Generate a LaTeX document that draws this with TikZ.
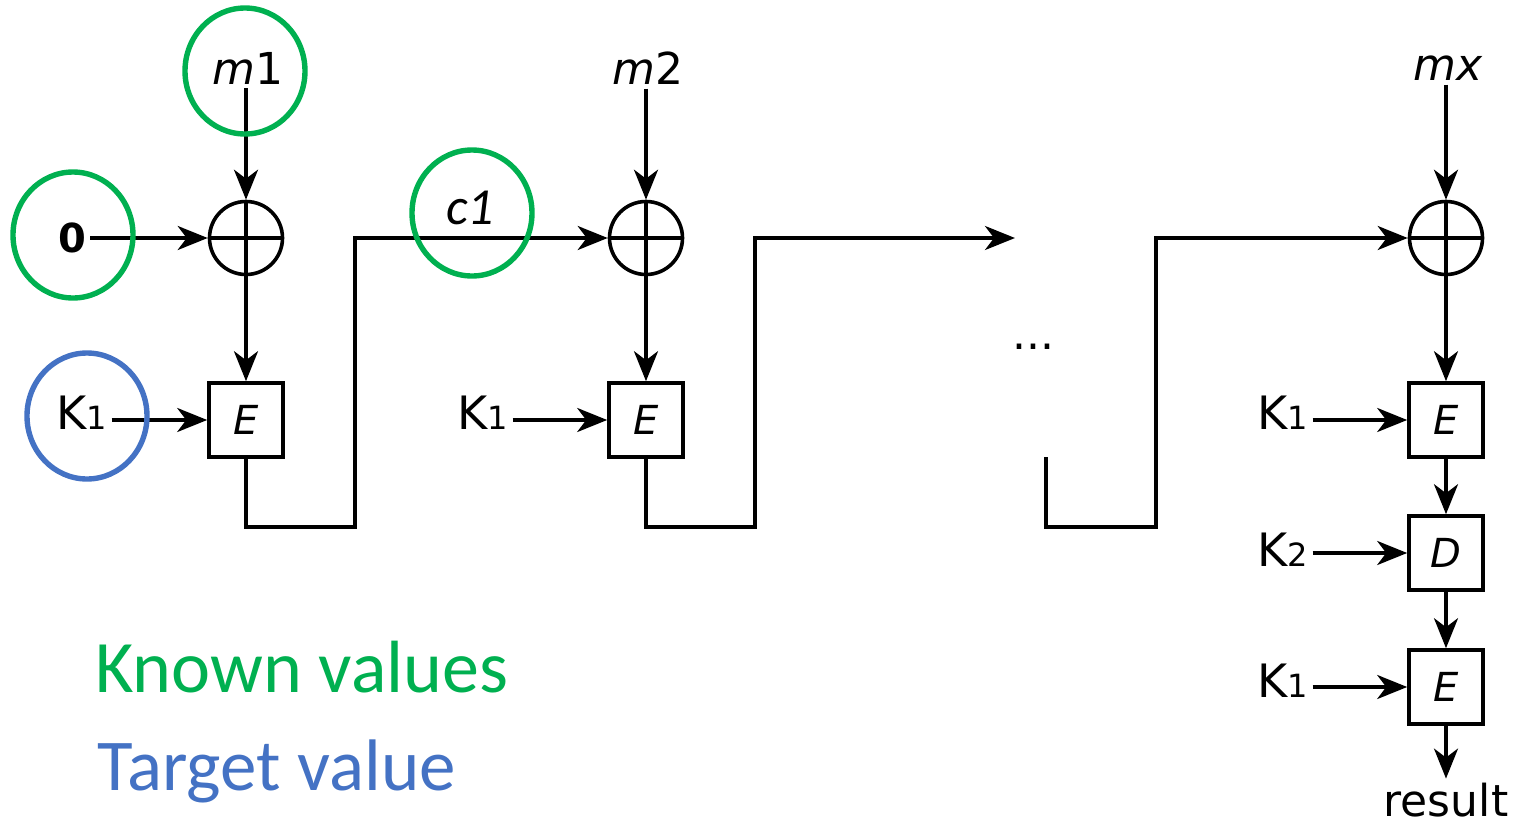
\documentclass[tikz,border=0pt]{standalone}
\usepackage{fontspec}
\setmainfont{DejaVu Sans}
\newfontfamily\carl{Carlito}
\usetikzlibrary{arrows.meta,shapes.geometric}
\definecolor{kgreen}{RGB}{0,176,80}
\definecolor{tblue}{RGB}{68,114,196}
\begin{document}
\begin{tikzpicture}[x=0.5pt,y=-0.5pt,
 line/.style={line width=1.8pt},
 arr/.style={line width=1.8pt,-{Stealth[length=15pt,width=12pt,inset=4.5pt]}},
 xorn/.style={circle,draw,line width=1.8pt,minimum size=36.5pt,inner sep=0},
 blk/.style={rectangle,draw,line width=1.8pt,minimum size=37pt,inner sep=0,font=\fontsize{20}{20}\selectfont\itshape},
 lbl/.style={inner sep=2pt,font=\fontsize{23}{23}\selectfont},
 msg/.style={inner sep=2pt,font=\fontsize{22}{22}\selectfont},
 ring/.style={ellipse,draw,line width=2.7pt,minimum width=60pt,minimum height=63pt,inner sep=0},
]
\useasboundingbox (0,0) rectangle (1517,825);
\newcommand{\kl}[1]{K{\fontsize{16}{16}\selectfont #1}}

% XOR nodes
\node[xorn] (x1) at (246,238) {};
\node[xorn] (x2) at (646,238) {};
\node[xorn] (x3) at (1446,238) {};
\foreach \x in {x1,x2,x3}{
  \draw[line] (\x.north) -- (\x.south) (\x.west) -- (\x.east);
}

% blocks
\node[blk] (e1) at (246,420) {E};
\node[blk] (e2) at (646,420) {E};
\node[blk] (e3) at (1446,420) {E};
\node[blk] (d)  at (1446,553) {D};
\node[blk] (e4) at (1446,687) {E};

% labels
\node[msg] (m1) at (248,68) {\textit{m}1};
\node[msg] (m2) at (648,68) {\textit{m}2};
\node[msg] (mx) at (1448,68) {\textit{mx}};
\node[inner sep=2pt,font=\fontsize{20}{20}\selectfont\bfseries] (zero) at (72,238) {0};
\node[lbl] (k1a) at (82,413) {\kl{1}};
\node[lbl] (k1b) at (483,413) {\kl{1}};
\node[lbl] (k1c) at (1283,413) {\kl{1}};
\node[lbl] (k2)  at (1283,550) {\kl{2}};
\node[lbl] (k1d) at (1283,681) {\kl{1}};
\node[inner sep=2pt,font=\fontsize{22}{22}\selectfont] (res) at (1446,800) {result};
\node[inner sep=0,font=\fontsize{22}{22}\selectfont] (dots) at (1033,347) {...};
\node[inner sep=0,font=\carl\fontsize{26}{26}\selectfont\itshape] (c1) at (470,208) {c1};

% vertical arrows
\draw[arr] (m1.south -| x1.north) -- (x1.north);
\draw[arr] (m2.south -| x2.north) -- (x2.north);
\draw[arr] (mx.south -| x3.north) -- (x3.north);
\draw[arr] (x1.south) -- (e1.north);
\draw[arr] (x2.south) -- (e2.north);
\draw[arr] (x3.south) -- (e3.north);
\draw[arr] (e3.south) -- (d.north);
\draw[arr] (d.south) -- (e4.north);
\draw[arr] (e4.south) -- (res.north);

% key arrows
\draw[arr] (zero.east) -- (x1.west);
\draw[arr] (k1a.east |- e1.west) -- (e1.west);
\draw[arr] (k1b.east |- e2.west) -- (e2.west);
\draw[arr] (k1c.east |- e3.west) -- (e3.west);
\draw[arr] (k2.east |- d.west) -- (d.west);
\draw[arr] (k1d.east |- e4.west) -- (e4.west);

% chaining lines
\coordinate (a1) at (355,527);
\coordinate (a2) at (355,238);
\draw[arr] (e1.south) |- (a1) -- (a2) -- (x2.west);
\coordinate (b1) at (755,527);
\coordinate (b2) at (755,238);
\coordinate (gap) at (1015,238);
\draw[arr] (e2.south) |- (b1) -- (b2) -- (gap);
\coordinate (s0) at (1046,457);
\coordinate (s1) at (1046,527);
\coordinate (s2) at (1156,527);
\coordinate (s3) at (1156,238);
\draw[arr] (s0) -- (s1) -- (s2) -- (s3) -- (x3.west);

% highlight rings
\node[ring,draw=kgreen] (g1) at (245,71) {};
\node[ring,draw=kgreen] (g2) at (73,235) {};
\node[ring,draw=kgreen] (g3) at (472,213) {};
\node[ring,draw=tblue] (bl) at (87,416) {};

% legend
\node[anchor=base west,inner sep=0,text=kgreen,font=\carl\fontsize{37}{37}\selectfont] (kv) at (95,692) {Known values};
\node[anchor=base west,inner sep=0,text=tblue,font=\carl\fontsize{36.5}{36.5}\selectfont] (tv) at (97,790) {Target value};
\end{tikzpicture}
\end{document}
